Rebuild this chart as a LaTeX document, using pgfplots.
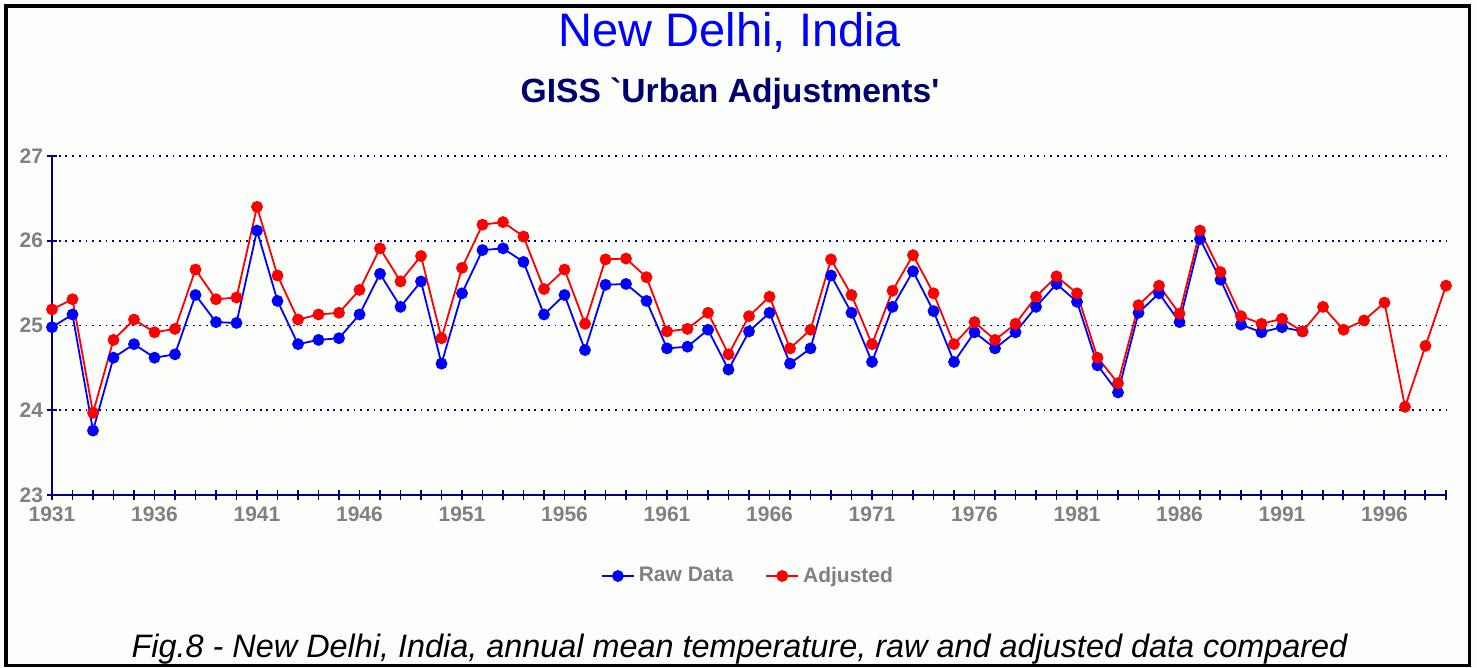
\documentclass[border=0pt]{standalone}
\usepackage{fontspec}
\setmainfont{Liberation Sans}
\usepackage{pgfplots}
\usepackage{pgfplotstable}
\pgfplotsset{compat=1.18}
\definecolor{navyax}{RGB}{0,0,128}
\definecolor{tickgrey}{RGB}{128,128,128}
\definecolor{subnavy}{RGB}{0,0,110}
\definecolor{bgc}{RGB}{252,254,252}

\pgfplotstableread{
year raw
1931 24.98
1932 25.13
1933 23.76
1934 24.62
1935 24.78
1936 24.62
1937 24.66
1938 25.36
1939 25.04
1940 25.03
1941 26.12
1942 25.29
1943 24.78
1944 24.83
1945 24.85
1946 25.13
1947 25.61
1948 25.22
1949 25.52
1950 24.55
1951 25.38
1952 25.89
1953 25.91
1954 25.75
1955 25.13
1956 25.36
1957 24.71
1958 25.48
1959 25.49
1960 25.29
1961 24.73
1962 24.75
1963 24.95
1964 24.48
1965 24.93
1966 25.15
1967 24.55
1968 24.73
1969 25.59
1970 25.15
1971 24.57
1972 25.22
1973 25.64
1974 25.17
1975 24.57
1976 24.92
1977 24.73
1978 24.92
1979 25.22
1980 25.49
1981 25.28
1982 24.53
1983 24.21
1984 25.15
1985 25.38
1986 25.04
1987 26.02
1988 25.54
1989 25.01
1990 24.92
1991 24.98
1992 24.93
}\rawdata

\pgfplotstableread{
year adj
1931 25.19
1932 25.31
1933 23.97
1934 24.83
1935 25.07
1936 24.92
1937 24.96
1938 25.66
1939 25.31
1940 25.33
1941 26.40
1942 25.59
1943 25.07
1944 25.13
1945 25.15
1946 25.42
1947 25.91
1948 25.52
1949 25.82
1950 24.85
1951 25.68
1952 26.19
1953 26.22
1954 26.05
1955 25.43
1956 25.66
1957 25.02
1958 25.78
1959 25.79
1960 25.57
1961 24.93
1962 24.96
1963 25.15
1964 24.66
1965 25.11
1966 25.34
1967 24.73
1968 24.95
1969 25.78
1970 25.36
1971 24.78
1972 25.41
1973 25.83
1974 25.38
1975 24.78
1976 25.04
1977 24.83
1978 25.02
1979 25.34
1980 25.58
1981 25.38
1982 24.62
1983 24.32
1984 25.24
1985 25.47
1986 25.14
1987 26.12
1988 25.63
1989 25.11
1990 25.02
1991 25.08
1992 24.93
1993 25.22
1994 24.95
1995 25.06
1996 25.27
1997 24.04
1998 24.76
1999 25.47
}\adjdata

\begin{document}
\begin{tikzpicture}
\useasboundingbox (0,0) rectangle (738.5pt,334pt);
\fill[bgc] (0,0) rectangle (738.5pt,334pt);
\draw[black, line width=1.6pt] (3pt,1.2pt) rectangle (734.8pt,331pt);

\node[anchor=base, text=blue, font=\fontsize{23.5}{27}\selectfont] at (365pt,310.5pt) {New Delhi, India};
\node[anchor=base, text=subnavy, font=\bfseries\fontsize{16.8}{19}\selectfont] at (365pt,282.5pt) {GISS \textasciigrave Urban Adjustments\textquotesingle};
\node[anchor=base, font=\itshape\fontsize{16.2}{18}\selectfont] at (369.75pt,5pt) {Fig.8 - New Delhi, India, annual mean temperature, raw and adjusted data compared};

\begin{axis}[
  at={(26pt,86.5pt)}, anchor=south west,
  scale only axis, width=697pt, height=169.5pt,
  xmin=1931, xmax=1999, ymin=23, ymax=27,
  axis x line*=bottom, axis y line*=left,
  axis line style={navyax, line width=1pt},
  xtick={1931,1936,...,1996},
  minor xtick={1931,...,1999},
  ytick={23,24,25,26,27},
  tick align=center,
  major tick length=5pt, minor tick length=5pt,
  every tick/.style={navyax, line width=0.9pt},
  ymajorgrids,
  major grid style={navyax, line width=0.9pt, dash pattern=on 0.9pt off 2.45pt},
  ticklabel style={font=\bfseries\fontsize{10.5}{12}\selectfont, text=tickgrey},
  yticklabel style={xshift=1.5pt},
  /pgf/number format/assume math mode=true,
  xticklabel style={/pgf/number format/1000 sep={}},
  legend style={draw=none, fill=none, at={(0.5,-0.239)}, anchor=center,
     legend columns=2, font=\bfseries\fontsize{10.5}{12}\selectfont, text=tickgrey,
     /tikz/every even column/.append style={column sep=14pt},
     inner sep=0pt},
  legend image code/.code={\draw[mark repeat=2,mark phase=2] plot coordinates {(0pt,0pt)(8pt,0pt)(16pt,0pt)};},
  clip=false,
]
\addplot[blue, line width=0.9pt, mark=*, mark size=2.5pt, mark options={solid}] table[x=year,y=raw] {\rawdata};
\addlegendentry{Raw Data}
\addplot[red, line width=0.9pt, mark=*, mark size=2.5pt, mark options={solid}] table[x=year,y=adj] {\adjdata};
\addlegendentry{Adjusted}
\end{axis}
\end{tikzpicture}
\end{document}
